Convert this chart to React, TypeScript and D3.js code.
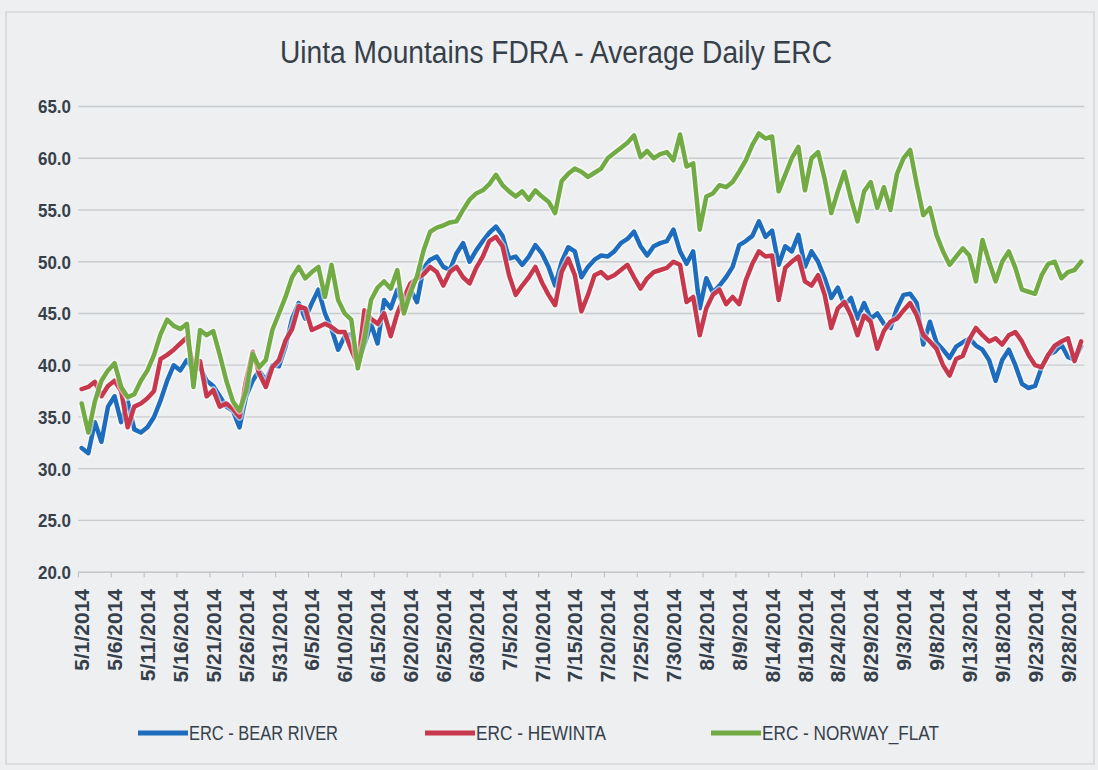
import React, { useEffect, useRef } from 'react';
import * as d3 from 'd3';

// daily ERC, 5/1/2014 .. 9/30/2014 (153 days)
const startDay = '2014-05-01';
const endDay = '2014-09-30';

const bearRiver = [
  32.0, 31.5, 34.5, 32.6, 36.0, 37.0, 34.5, 36.5, 33.8, 33.5, 34.0, 35.0, 36.6, 38.5, 40.0, 39.5,
  40.5, 39.5, 39.8, 38.5, 38.0, 37.0, 36.0, 35.6, 34.0, 37.0, 38.5, 39.5, 38.5, 40.0, 39.9, 41.8,
  44.5, 46.0, 44.5, 46.0, 47.3, 45.0, 43.5, 41.5, 42.8, 43.0, 40.2, 42.0, 44.0, 42.1, 46.3, 45.5,
  47.3, 45.5, 47.3, 46.1, 49.4, 50.2, 50.5, 49.5, 49.2, 50.8, 51.8, 50.0, 51.1,
  52.0, 52.8, 53.4, 52.5, 50.3, 50.5, 49.7, 50.5, 51.6, 50.8, 49.5, 47.7, 50.0, 51.4, 51.0,
  48.5, 49.5, 50.2, 50.6, 50.5, 51.0, 51.8, 52.2, 52.9, 51.5, 50.6, 51.5, 51.8, 52.0, 53.1,
  51.0, 49.8, 51.0, 45.5, 48.4, 47.0, 47.7, 48.5, 49.5, 51.6, 52.0, 52.5, 53.9, 52.4, 53.0, 49.7,
  51.5, 51.0, 52.6, 49.5, 51.0, 50.0, 48.4, 46.5, 47.5, 45.8, 46.5, 44.5, 46.0, 44.5, 45.0,
  44.0, 43.6, 45.5, 46.8, 46.9, 46.0, 42.0, 44.2, 42.2, 41.5, 40.7, 41.8, 42.2, 42.6, 41.9, 41.5,
  40.5, 38.5, 40.5, 41.5, 40.0, 38.2, 37.8, 38.0, 39.8, 41.0, 41.3, 42.0, 40.8, 40.5, 41.8,
];

const hewinta = [
  37.7, 37.9, 38.4, 37.0, 38.0, 38.5, 37.5, 34.0, 36.0, 36.3, 36.8, 37.5, 40.6, 41.0, 41.5, 42.1,
  42.7, 39.8, 40.4, 37.0, 37.6, 36.0, 36.3, 35.8, 35.0, 38.5, 41.3, 39.2, 37.9, 39.8, 40.5, 42.4,
  43.5, 45.7, 45.5, 43.4, 43.7, 44.0, 43.7, 43.2, 43.2, 41.5, 40.0, 45.3, 44.5, 44.0, 45.0, 42.8,
  45.0, 46.5, 47.9, 48.4, 48.8, 49.5, 49.0, 47.7, 49.0, 49.5, 48.5, 47.9, 49.4,
  50.5, 52.0, 52.4, 51.5, 48.7, 46.8, 47.7, 48.5, 49.5, 48.0, 46.8, 45.8, 49.0, 50.3, 48.7,
  45.2, 46.8, 48.7, 49.0, 48.4, 48.7, 49.2, 49.7, 48.5, 47.4, 48.4, 49.0, 49.2, 49.4, 50.0,
  49.7, 46.1, 46.6, 42.9, 45.5, 46.8, 47.3, 45.9, 46.6, 45.9, 48.2, 49.8, 51.0, 50.5, 50.6, 46.3,
  49.4, 50.0, 50.5, 48.1, 47.7, 48.7, 46.8, 43.6, 45.5, 46.1, 44.8, 42.9, 44.8, 44.2, 41.6,
  43.3, 44.2, 44.5, 45.3, 46.0, 44.8, 42.9, 42.3, 41.6, 40.0, 39.0, 40.6, 40.9, 42.5, 43.6, 42.9,
  42.3, 42.6, 42.0, 42.9, 43.2, 42.3, 41.0, 40.0, 39.8, 41.0, 41.9, 42.3, 42.6, 40.4, 42.3,
];

const norwayFlat = [
  36.3, 33.5, 36.5, 38.5, 39.5, 40.2, 37.9, 36.9, 37.2, 38.5, 39.5, 41.0, 43.0, 44.4, 43.8, 43.5,
  44.0, 37.9, 43.4, 42.9, 43.3, 41.0, 38.5, 36.5, 35.6, 37.5, 41.1, 39.8, 40.5, 43.4, 45.0, 46.6,
  48.5, 49.5, 48.4, 49.0, 49.5, 46.6, 49.7, 46.3, 45.0, 44.4, 39.7, 42.5, 46.3, 47.5, 48.1, 47.4,
  49.2, 45.0, 47.0, 48.6, 51.1, 52.9, 53.3, 53.5, 53.8, 53.9, 55.0, 56.0, 56.6,
  56.9, 57.5, 58.4, 57.4, 56.8, 56.3, 56.8, 56.0, 56.9, 56.3, 55.8, 54.7, 57.8, 58.5, 59.0,
  58.7, 58.2, 58.6, 59.0, 60.0, 60.5, 61.0, 61.5, 62.2, 60.1, 60.7, 60.0, 60.4, 60.6, 59.8,
  62.3, 59.2, 59.5, 53.1, 56.3, 56.6, 57.4, 57.2, 57.7, 58.7, 59.8, 61.3, 62.4, 61.9, 62.1, 56.8,
  58.4, 60.0, 61.1, 56.9, 60.0, 60.6, 58.0, 54.7, 56.8, 58.7, 56.1, 53.9, 56.8, 57.7, 55.2,
  57.2, 55.0, 58.5, 60.0, 60.8, 57.5, 54.5, 55.2, 52.6, 51.0, 49.7, 50.5, 51.3, 50.6, 48.1, 52.1,
  50.0, 48.1, 50.0, 51.0, 49.4, 47.3, 47.1, 46.9, 48.7, 49.8, 50.0, 48.4, 49.0, 49.2, 50.0,
];

const yTicks = [20, 25, 30, 35, 40, 45, 50, 55, 60, 65];
const labelEvery = 5;

const seriesNames = ['ERC - BEAR RIVER', 'ERC - HEWINTA', 'ERC - NORWAY_FLAT'];
const seriesColors = ['#1d6cbd', '#c8384d', '#72aa44'];
const legendX = [138, 425, 711];
const legendTextW = [149, 130, 177];

const W = 1098;
const H = 770;
const textColor = '#36404a';
const font = '"Liberation Sans", Arial, sans-serif';

const Chart: React.FC = () => {
  const svgRef = useRef<SVGSVGElement>(null);

  useEffect(() => {
    const svg = d3.select(svgRef.current);
    svg.selectAll('*').remove();

    const dates = d3.utcDay.range(new Date(startDay), d3.utcDay.offset(new Date(endDay), 1));
    const fmt = d3.utcFormat('%-m/%-d/%Y');
    const idx = d3.range(dates.length);

    const x = d3.scalePoint<number>().domain(idx).range([81.7, 81.7 + 6.575 * (dates.length - 1)]);
    const step = x.step();
    const y = d3.scaleLinear().domain([20, 65]).range([572.2, 106.5]);
    const left = x(0)! - step / 2;
    const right = x(dates.length - 1)! + step / 2;

    svg.append('rect').attr('width', W).attr('height', H).attr('fill', '#edeff1');
    svg.append('rect')
      .attr('x', 6).attr('y', 12).attr('width', W - 10).attr('height', H - 18)
      .attr('fill', 'none').attr('stroke', '#d3d6d9').attr('stroke-width', 1.5);

    // title, squeezed to the reference's condensed width
    svg.append('text')
      .attr('x', 280).attr('y', 63)
      .attr('font-family', font)
      .attr('font-size', 31)
      .attr('textLength', 552)
      .attr('lengthAdjust', 'spacingAndGlyphs')
      .attr('fill', textColor)
      .text('Uinta Mountains FDRA - Average Daily ERC');

    // gridlines
    svg.append('g')
      .selectAll('line')
      .data(yTicks)
      .join('line')
      .attr('x1', left).attr('x2', right)
      .attr('y1', d => y(d)).attr('y2', d => y(d))
      .attr('stroke', d => (d === 20 ? '#b9bcbf' : '#c8cbce'))
      .attr('stroke-width', 1.3);

    svg.append('g')
      .selectAll('text')
      .data(yTicks)
      .join('text')
      .attr('x', 38).attr('y', d => y(d))
      .attr('dy', '0.36em')
      .attr('font-family', font)
      .attr('font-weight', 'bold')
      .attr('font-size', 19)
      .attr('textLength', 33)
      .attr('lengthAdjust', 'spacingAndGlyphs')
      .attr('fill', textColor)
      .text(d => d.toFixed(1));

    const labelIdx = idx.filter(i => i % labelEvery === 0);

    // tick marks between label groups
    svg.append('g')
      .selectAll('line')
      .data(labelIdx)
      .join('line')
      .attr('x1', d => x(d)! - step / 2).attr('x2', d => x(d)! - step / 2)
      .attr('y1', y(20)).attr('y2', y(20) + 5)
      .attr('stroke', '#b9bcbf');

    svg.append('g')
      .selectAll('text')
      .data(labelIdx)
      .join('text')
      .attr('transform', d => `translate(${x(d)},589) rotate(-90)`)
      .attr('dy', '0.36em')
      .attr('text-anchor', 'end')
      .attr('font-family', font)
      .attr('font-weight', 'bold')
      .attr('font-size', 21)
      .attr('fill', textColor)
      .text(d => fmt(dates[d]));

    const series = [bearRiver, hewinta, norwayFlat];
    const line = d3.line<number>()
      .x((_, i) => x(i)!)
      .y(d => y(d));

    const lines = svg.append('g');
    series.forEach((vals, k) => {
      lines.append('path')
        .attr('d', line(vals))
        .attr('fill', 'none')
        .attr('stroke', '#ffffff')
        .attr('stroke-opacity', 0.55)
        .attr('stroke-width', 7.5)
        .attr('stroke-linejoin', 'round');
      lines.append('path')
        .attr('d', line(vals))
        .attr('fill', 'none')
        .attr('stroke', seriesColors[k])
        .attr('stroke-width', 4.5)
        .attr('stroke-linejoin', 'round')
        .attr('stroke-linecap', 'round');
    });

    const legend = svg.append('g')
      .selectAll('g')
      .data(seriesNames)
      .join('g')
      .attr('transform', (_, k) => `translate(${legendX[k]},733)`);
    legend.append('line')
      .attr('x1', 0).attr('x2', 50)
      .attr('stroke', (_, k) => seriesColors[k])
      .attr('stroke-width', 5);
    legend.append('text')
      .attr('x', 51).attr('dy', '0.36em')
      .attr('font-family', font)
      .attr('font-size', 20)
      .attr('textLength', (_, k) => legendTextW[k])
      .attr('lengthAdjust', 'spacingAndGlyphs')
      .attr('fill', textColor)
      .text(d => d);
  }, []);

  return (
    <svg
      ref={svgRef}
      width={W}
      height={H}
      style={{ position: 'absolute', left: 0, top: 0, display: 'block' }}
    />
  );
};

export default function App() {
  return <Chart />;
}
